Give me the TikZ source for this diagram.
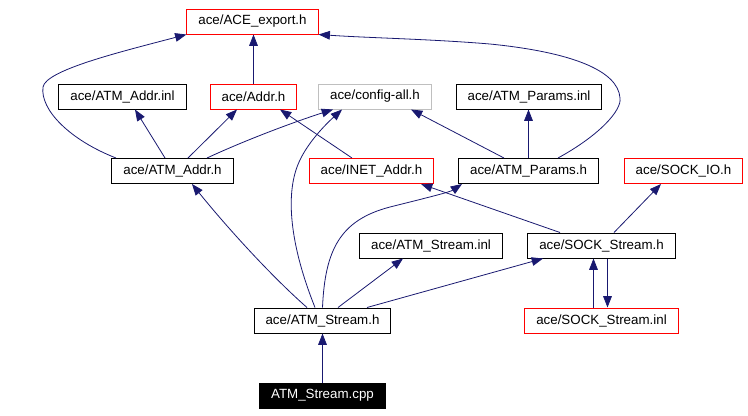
\documentclass[tikz,border=0pt]{standalone}
\usepackage{fontspec}
\setmainfont{Liberation Sans}
\usetikzlibrary{arrows.meta,calc}
\definecolor{edgeblue}{RGB}{25,25,112}
\definecolor{hidden}{RGB}{191,191,191}
\tikzstyle{file}=[draw,minimum height=18.75pt,inner xsep=8.6pt,inner ysep=0pt,
  line width=0.75pt,font=\fontsize{10}{12}\selectfont]
\tikzstyle{dep}=[edgeblue,line width=0.6pt,-{Triangle[length=8.5pt,width=6.5pt]}]
\newcommand{\newFile}[4]{\node[file,#3](#1) at #4 {#2};}

\begin{document}
\begin{tikzpicture}[x=0.75pt,y=-0.75pt]
  \useasboundingbox (0,0) rectangle (748,415);
  % files
  \newFile{export}{ace/ACE\_export.h}{draw=red}{(252.5,21.5)}
  \newFile{addrinl}{ace/ATM\_Addr.inl}{}{(122.5,96.5)}
  \newFile{addr}{ace/Addr.h}{draw=red}{(253.5,96.5)}
  \newFile{config}{ace/config-all.h}{draw=hidden}{(375,96.5)}
  \newFile{paramsinl}{ace/ATM\_Params.inl}{}{(529,96.5)}
  \newFile{addrh}{ace/ATM\_Addr.h}{}{(172.5,171)}
  \newFile{inet}{ace/INET\_Addr.h}{draw=red}{(371.5,171)}
  \newFile{paramsh}{ace/ATM\_Params.h}{}{(528.5,171)}
  \newFile{sockio}{ace/SOCK\_IO.h}{draw=red}{(683.5,171)}
  \newFile{streaminl}{ace/ATM\_Stream.inl}{}{(431,245.5)}
  \newFile{sockh}{ace/SOCK\_Stream.h}{}{(601.5,245.5)}
  \newFile{streamh}{ace/ATM\_Stream.h}{}{(322.5,320.5)}
  \newFile{sockinl}{ace/SOCK\_Stream.inl}{draw=red}{(601.5,320.5)}
  \newFile{cpp}{ATM\_Stream.cpp}{fill=black,text=white}{(322.5,395.5)}
  % includes
  \draw[dep] ($(addrh.north)+(-56.5,0)$) .. controls (70,140) and (40,110) .. (43,87)
    .. controls (46,70) and (120,52) .. (export.south west);
  \draw[dep] ($(addrh.north)+(-7.5,0)$) -- ($(addrinl.south)+(12.5,0)$);
  \draw[dep] ($(addrh.north)+(15.5,0)$) -- ($(addr.south)+(-16.5,0)$);
  \draw[dep] ($(addrh.north)+(34.5,0)$) .. controls (250,138) and (300,120) .. ($(config.south)+(-42,0)$);
  \draw[dep] (addr.north) -- (addr.north |- export.south);
  \draw[dep] ($(inet.north)+(-19.5,0)$) -- ($(addr.south)+(26.5,0)$);
  \draw[dep] ($(paramsh.north)+(-24.5,0)$) -- ($(config.south)+(36,0)$);
  \draw[dep] (paramsh.north) -- (paramsh.north |- paramsinl.south);
  \draw[dep] ($(paramsh.north)+(29.5,0)$) .. controls (600,135) and (622,110) .. (620,98)
    .. controls (618,70) and (570,52) .. (490,44)
    .. controls (430,39) and (370,38) .. (export.south east);
  \draw[dep] ($(sockh.north)+(12.5,0)$) -- ($(sockio.south)+(-22.5,0)$);
  \draw[dep] ($(sockh.north)+(-41.5,0)$) -- ($(inet.south)+(49.5,0)$);
  \draw[dep] ($(sockh.south)+(6,0)$) -- ($(sockinl.north)+(6,0)$);
  \draw[dep] ($(sockinl.north)+(-8,0)$) -- ($(sockh.south)+(-8,0)$);
  \draw[dep] (cpp) -- (streamh);
  \draw[dep] ($(streamh.north)+(-15.5,0)$) .. controls (270,275) and (225,225) .. ($(addrh.south)+(19.5,0)$);
  \draw[dep] ($(streamh.north)+(-7.5,0)$) .. controls (292,250) and (285,200) .. (297,167)
    .. controls (305,145) and (325,125) .. ($(config.south)+(-33,0)$);
  \draw[dep] (streamh.north) .. controls (325,250) and (340,220) .. (390,207)
    .. controls (430,197) and (450,192) .. ($(paramsh.south)+(-66.5,0)$);
  \draw[dep] ($(streamh.north)+(15.5,0)$) -- ($(streaminl.south)+(-28,0)$);
  \draw[dep] ($(streamh.north)+(44.5,0)$) -- ($(sockh.south)+(-58.5,0)$);
\end{tikzpicture}
\end{document}
